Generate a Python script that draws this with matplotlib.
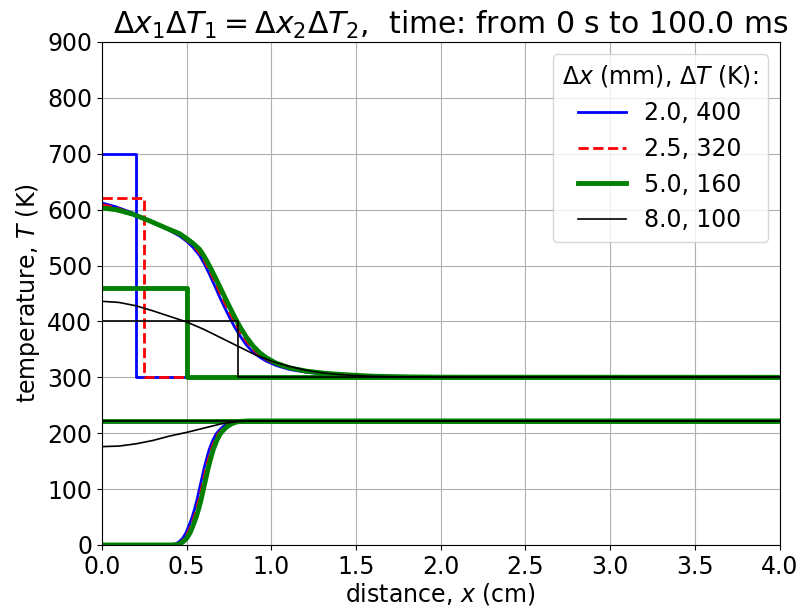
import matplotlib
matplotlib.use("Agg")
import matplotlib.pyplot as plt
import numpy as np

# ---- data ----
dx_mm = [2.0, 2.5, 5.0, 8.0]          # initial hot-zone width (mm)
dT_K = [400, 320, 160, 100]           # initial temperature excess (K)
T_base = 300                          # background temperature (K)
T_low_init = 222                      # lower initial flat level (K)
x_max = 4.0

colors = ['blue', 'red', 'green', 'black']
styles = ['-', '--', '-', '-']
widths = [2.0, 2.0, 3.5, 1.2]

# final (t = 100 ms) upper profiles
x_up_blue = [0.0, 0.083, 0.181, 0.280, 0.379, 0.458, 0.501, 0.536, 0.576, 0.606, 0.635, 0.665, 0.694, 0.724,
             0.753, 0.783, 0.813, 0.852, 0.892, 0.931, 0.970, 1.030, 1.108, 1.207, 1.325, 1.444, 1.6, 1.8, 2.0, 4.0]
T_up_blue = [612, 605, 594, 580, 566, 553, 543, 533, 518, 502, 484, 464, 444, 425,
             407, 390, 375, 358, 345, 336, 329, 321, 314, 309, 305, 303, 301.3, 300.5, 300.2, 300]
x_up_red = [0.0, 0.083, 0.181, 0.280, 0.379, 0.458, 0.501, 0.536, 0.576, 0.606, 0.635, 0.665, 0.694, 0.724,
            0.753, 0.783, 0.813, 0.852, 0.892, 0.931, 0.970, 1.030, 1.108, 1.207, 1.325, 1.444, 1.6, 1.8, 2.0, 4.0]
T_up_red = [609, 603, 593, 580, 567, 555, 545, 537, 523, 508, 491, 472, 453, 434,
            416, 399, 383, 365, 350, 340, 332, 323, 315.5, 310, 306, 303.7, 301.6, 300.6, 300.2, 300]
x_up_green = [0.0, 0.083, 0.181, 0.280, 0.379, 0.458, 0.501, 0.536, 0.576, 0.606, 0.635, 0.665, 0.694, 0.724,
              0.753, 0.783, 0.813, 0.852, 0.892, 0.931, 0.970, 1.030, 1.108, 1.207, 1.325, 1.444, 1.6, 1.8, 2.0, 4.0]
T_up_green = [603, 600, 592, 580, 567, 557, 548, 540, 529, 515, 499, 481, 463, 444,
              426, 408, 391, 372, 356, 344, 335, 325, 317, 311, 307, 304.5, 302, 300.8, 300.3, 300]
x_up_black = [0.0, 0.1, 0.2, 0.3, 0.4, 0.5, 0.6, 0.7, 0.8, 0.9, 1.0, 1.1, 1.2, 1.3, 1.4, 1.5, 1.6, 1.8, 2.0, 4.0]
T_up_black = [436, 434, 428, 419, 409, 399, 386, 371, 356, 341, 329, 320, 313, 308, 305, 303, 301.8, 300.7, 300.2, 300]

# final (t = 100 ms) lower profiles
T_lo_col = [0, 0, 0.5, 2, 6, 12, 22, 36, 49, 63, 80, 99, 119, 138, 155, 171, 186, 198, 205, 211, 217, 220, 221.5, 222, 222]
x_lo_blue = [0.0, 0.376, 0.416, 0.436, 0.456, 0.476, 0.496, 0.515, 0.531, 0.545, 0.560, 0.574, 0.589, 0.603, 0.618,
             0.633, 0.652, 0.672, 0.691, 0.711, 0.741, 0.770, 0.806, 0.849, 4.0]
T_lo_blue = T_lo_col
x_lo_red = [0.0, 0.388, 0.428, 0.448, 0.468, 0.488, 0.508, 0.527, 0.543, 0.557, 0.572, 0.586, 0.601, 0.615, 0.630,
            0.645, 0.664, 0.684, 0.703, 0.723, 0.753, 0.782, 0.818, 0.861, 4.0]
T_lo_red = T_lo_col
x_lo_green = [0.0, 0.400, 0.440, 0.460, 0.480, 0.500, 0.520, 0.539, 0.555, 0.569, 0.584, 0.598, 0.613, 0.627, 0.642,
              0.657, 0.676, 0.696, 0.715, 0.735, 0.765, 0.794, 0.830, 0.873, 4.0]
T_lo_green = T_lo_col
x_lo_black = [0.0, 0.1, 0.2, 0.3, 0.4, 0.5, 0.6, 0.7, 0.8, 0.9, 4.0]
T_lo_black = [176, 177, 181, 187, 195, 201.5, 209, 216.5, 221, 222, 222]

labels = [f"{d:.1f}, {t}" for d, t in zip(dx_mm, dT_K)]

x_up = [x_up_blue, x_up_red, x_up_green, x_up_black]
T_up = [T_up_blue, T_up_red, T_up_green, T_up_black]
x_lo = [x_lo_blue, x_lo_red, x_lo_green, x_lo_black]
T_lo = [T_lo_blue, T_lo_red, T_lo_green, T_lo_black]

fig = plt.figure(figsize=(7.99, 6.14), dpi=100)
ax = fig.add_axes([0.1277, 0.1124, 0.9756 - 0.1277, 0.9316 - 0.1124])

for i in range(4):
    w = dx_mm[i] / 10.0  # cm
    xs = [0, w, w, x_max]
    Ts = [T_base + dT_K[i], T_base + dT_K[i], T_base, T_base]
    kw = dict(color=colors[i], ls=styles[i], lw=widths[i])
    ax.plot(xs, Ts, label=labels[i], **kw)
    ax.plot([0, x_max], [T_low_init, T_low_init], **kw)
    ax.plot(x_up[i], T_up[i], **kw)
    ax.plot(x_lo[i], T_lo[i], **kw)

ax.set_xlim(0, 4.0)
ax.set_ylim(0, 900)
ax.set_xticks(np.arange(0, 4.01, 0.5))
ax.set_yticks(np.arange(0, 901, 100))
ax.tick_params(labelsize=17)
ax.grid(True)
ax.set_xlabel(r'distance, $x$ (cm)', fontsize=17, labelpad=2)
ax.set_ylabel(r'temperature, $T$ (K)', fontsize=17, labelpad=4)
ax.set_title(r'$\Delta x_1 \Delta T_1 = \Delta x_2 \Delta T_2$,  time: from 0 s to 100.0 ms',
             fontsize=21.5, x=0.515)
ax.legend(title=r'$\Delta x$ (mm), $\Delta T$ (K):', fontsize=17, title_fontsize=17, loc='upper right')

fig.savefig('out.png', dpi=100)
